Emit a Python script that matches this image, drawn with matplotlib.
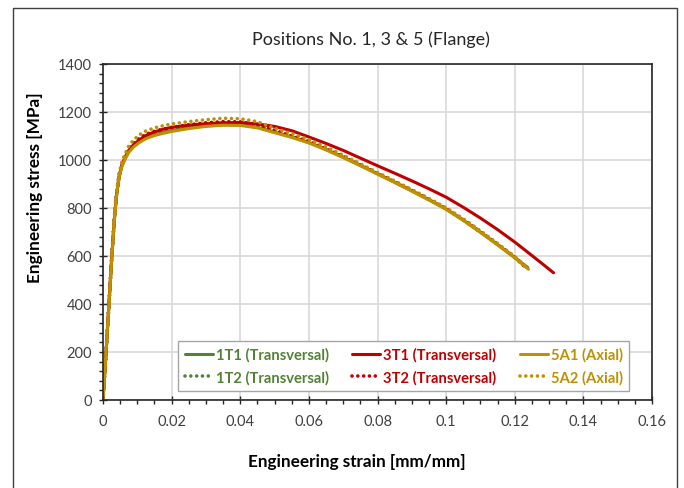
# -*- coding: utf-8 -*-
"""Engineering stress-strain curves, positions No. 1, 3 & 5 (flange)."""
import matplotlib
matplotlib.use("Agg")
import matplotlib.pyplot as plt
from matplotlib.lines import Line2D
from matplotlib.ticker import MultipleLocator, FuncFormatter

plt.rcParams["font.family"] = ["Lato", "DejaVu Sans"]

# shared strain grid [mm/mm]
STRAIN = [0, 0.0009, 0.0017, 0.0025, 0.0033, 0.0040, 0.0047, 0.0055, 0.0064,
          0.0075, 0.0088, 0.0105, 0.0125, 0.015, 0.0175, 0.02, 0.025, 0.03,
          0.035, 0.04, 0.045, 0.05, 0.055, 0.06, 0.065, 0.07, 0.075, 0.08,
          0.085, 0.09, 0.095, 0.10, 0.105, 0.11, 0.115, 0.12]

# stresses [MPa]; END_* hold the tail up to fracture
S_1T1 = [0, 200, 390, 580, 750, 860, 930, 975, 1005, 1035, 1056, 1075, 1092,
         1105, 1114, 1122, 1134, 1142, 1147, 1147, 1136, 1116, 1096, 1073,
         1044, 1012, 978, 943, 908, 872, 835, 796, 750, 700, 648, 594]
S_1T2 = [0, 200, 392, 585, 755, 865, 935, 982, 1012, 1042, 1064, 1085, 1102,
         1116, 1125, 1132, 1143, 1152, 1157, 1156, 1145, 1122, 1099, 1076,
         1046, 1014, 979, 944, 909, 873, 836, 797, 750, 700, 648, 594]
S_3T1 = [0, 200, 392, 583, 752, 862, 933, 980, 1010, 1040, 1062, 1083, 1102,
         1117, 1128, 1136, 1145, 1151, 1155, 1156, 1150, 1140, 1122, 1096,
         1069, 1040, 1008, 976, 945, 913, 880, 845, 803, 758, 710, 658]
S_3T2 = [0, 200, 393, 585, 756, 866, 937, 984, 1015, 1045, 1068, 1090, 1107,
         1120, 1129, 1136, 1147, 1155, 1160, 1159, 1148, 1124, 1100, 1077,
         1047, 1015, 980, 944, 909, 873, 836, 797, 751, 701, 649, 595]
S_5A1 = [0, 200, 388, 578, 748, 858, 928, 972, 1002, 1032, 1053, 1072, 1089,
         1102, 1111, 1119, 1131, 1140, 1145, 1144, 1134, 1114, 1094, 1071,
         1042, 1010, 976, 941, 906, 870, 833, 794, 748, 698, 646, 592]
S_5A2 = [0, 202, 395, 590, 762, 872, 945, 992, 1025, 1058, 1082, 1104, 1121,
         1134, 1143, 1150, 1160, 1168, 1174, 1172, 1160, 1132, 1110, 1085,
         1054, 1020, 984, 948, 913, 877, 840, 801, 755, 705, 652, 598]

END_1T1 = ([0.1238], [552])
END_1T2 = ([0.1235], [548])
END_3T1 = ([0.125, 0.128, 0.1313], [602, 568, 530])
END_3T2 = ([0.1236], [547])
END_5A1 = ([0.1240], [545])
END_5A2 = ([0.1238], [549])

LABELS = ["1T1 (Transversal)", "1T2 (Transversal)", "3T1 (Transversal)",
          "3T2 (Transversal)", "5A1 (Axial)", "5A2 (Axial)"]

GREEN, RED, GOLD = "#548235", "#C00000", "#BF9000"
DOTS = (0, (0.01, 1.6))

series = [
    (S_1T1, END_1T1, GREEN, "-"),
    (S_1T2, END_1T2, GREEN, DOTS),
    (S_3T1, END_3T1, RED, "-"),
    (S_3T2, END_3T2, RED, DOTS),
    (S_5A1, END_5A1, GOLD, "-"),
    (S_5A2, END_5A2, GOLD, DOTS),
]

fig = plt.figure(figsize=(6.84, 4.89), dpi=100)
ax = fig.add_axes([103 / 684, 88 / 489, 549 / 684, 336 / 489])

handles = []
for (stress, end, color, ls), label in zip(series, LABELS):
    x = STRAIN + end[0]
    y = stress + end[1]
    lw = 2.2 if ls == "-" else 2.6
    ln, = ax.plot(x, y, color=color, lw=lw, ls=ls, label=label,
                  solid_capstyle="round", dash_capstyle="round",
                  solid_joinstyle="round")
    handles.append(ln)

ax.set_xlim(0, 0.16)
ax.set_ylim(0, 1400)
ax.xaxis.set_major_locator(MultipleLocator(0.02))
ax.xaxis.set_minor_locator(MultipleLocator(0.005))
ax.yaxis.set_major_locator(MultipleLocator(200))
ax.yaxis.set_minor_locator(MultipleLocator(40))
ax.xaxis.set_major_formatter(FuncFormatter(lambda v, p: "0" if v == 0 else f"{v:g}"))
ax.grid(True, which="major", color="#D9D9D9", lw=1.2)
ax.set_axisbelow(True)
for sp in ax.spines.values():
    sp.set_color("#262626")
    sp.set_linewidth(1.2)
ax.tick_params(which="major", direction="inout", length=6, width=1,
               color="#262626", labelsize=10.5, labelcolor="#404040", pad=5)
ax.tick_params(which="minor", direction="out", length=3, width=1,
               color="#262626")
ax.tick_params(axis="x", which="major", pad=7)

leg = ax.legend(handles=handles, ncol=3, loc="lower left",
                bbox_to_anchor=(0.1366, 0.027), borderaxespad=0,
                frameon=True, fancybox=False, edgecolor="#A6A6A6",
                framealpha=1, handlelength=1.9, handletextpad=0.2,
                columnspacing=1.6, borderpad=0.45, labelspacing=0.55,
                prop={"weight": "bold", "size": 10.6})
leg.get_frame().set_linewidth(1)
for txt, ln in zip(leg.get_texts(), handles):
    txt.set_color(ln.get_color())

fig.text(371 / 684, 1 - 40 / 489, "Positions No. 1, 3 & 5 (Flange)",
         ha="center", va="center", fontsize=13, color="#262626")
fig.text(35 / 684, 1 - 188 / 489, "Engineering stress [MPa]", rotation=90,
         ha="center", va="center", fontsize=12.4, fontweight="bold")
fig.text(357 / 684, 1 - 462 / 489, "Engineering strain [mm/mm]",
         ha="center", va="center", fontsize=12.3, fontweight="bold")

# outer chart border (left, top, right)
fig.add_artist(Line2D([12.5 / 684, 12.5 / 684, 677 / 684, 677 / 684],
                      [0, 1 - 8.5 / 489, 1 - 8.5 / 489, 0],
                      transform=fig.transFigure, color="#404040", lw=1))

fig.savefig("out.png", dpi=100)
